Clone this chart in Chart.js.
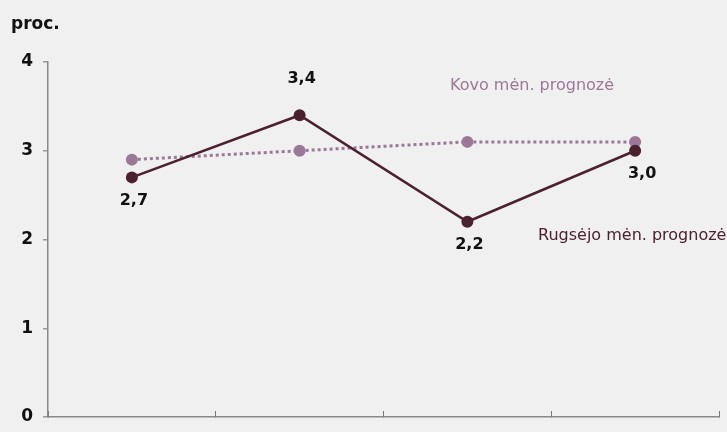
<!DOCTYPE html>
<html>
<head>
<meta charset="utf-8">
<script src="https://cdn.jsdelivr.net/npm/chart.js@4/dist/chart.umd.min.js"></script>
<style>
  html, body { margin: 0; padding: 0; background: #f0f0f0; }
  #wrap { width: 727px; height: 432px; }
</style>
</head>
<body>
<div id="wrap"><canvas id="chart"></canvas></div>
<script>
// Chart data
const categories = ['2024', '2025', '2026', '2027'];
const septForecast = [2.7, 3.4, 2.2, 3.0];   // Rugsėjo mėn. prognozė
const marchForecast = [2.9, 3.0, 3.1, 3.1];  // Kovo mėn. prognozė
const septLabelSide = ['below', 'above', 'below', 'below'];
const yTicks = [0, 1, 2, 3, 4];

const DARK = '#4b2130';
const LIGHT = '#9a7896';
const FONT = '"DejaVu Sans", sans-serif';

/**
 * Draws the value labels, series names and unit text
 */
const annotations = {
    id: 'annotations',
    beforeDraw(chart) {
        const ctx = chart.ctx;
        ctx.save();
        ctx.fillStyle = '#f0f0f0';
        ctx.fillRect(0, 0, chart.width, chart.height);
        ctx.restore();
    },
    afterDatasetsDraw(chart) {
        const ctx = chart.ctx;
        ctx.save();

        // unit
        ctx.fillStyle = '#111';
        ctx.font = 'bold 17px ' + FONT;
        ctx.textAlign = 'left';
        ctx.textBaseline = 'middle';
        ctx.fillText('proc.', 11, 25);

        // value labels on the September series
        const meta = chart.getDatasetMeta(0);
        ctx.font = 'bold 16px ' + FONT;
        ctx.textAlign = 'center';
        meta.data.forEach((pt, i) => {
            const text = septForecast[i].toFixed(1).replace('.', ',');
            const dy = septLabelSide[i] === 'above' ? -36 : 23;
            ctx.fillText(text, pt.x + (i === 3 ? 7 : 2), pt.y + dy);
        });

        // series names
        ctx.font = '16px ' + FONT;
        ctx.textAlign = 'left';
        ctx.fillStyle = LIGHT;
        ctx.fillText('Kovo mėn. prognozė', 450, 86);
        ctx.fillStyle = DARK;
        ctx.fillText('Rugsėjo mėn. prognozė', 538, 236);

        ctx.restore();
    }
};

new Chart(document.getElementById('chart'), {
    type: 'line',
    data: {
        labels: categories,
        datasets: [{
            label: 'Rugsėjo mėn. prognozė',
            data: septForecast,
            borderColor: DARK,
            backgroundColor: DARK,
            borderWidth: 2.5,
            pointRadius: 6,
            pointHoverRadius: 6,
            pointBorderWidth: 0,
            tension: 0,
            order: 1
        }, {
            label: 'Kovo mėn. prognozė',
            data: marchForecast,
            borderColor: LIGHT,
            backgroundColor: LIGHT,
            borderWidth: 3,
            borderDash: [3, 3],
            pointRadius: 6,
            pointHoverRadius: 6,
            pointBorderWidth: 0,
            tension: 0,
            order: 2
        }]
    },
    options: {
        responsive: true,
        maintainAspectRatio: false,
        animation: false,
        layout: {
            padding: { top: 62, right: 8, bottom: 0, left: 0 }
        },
        plugins: {
            legend: { display: false },
            tooltip: { enabled: false }
        },
        scales: {
            x: {
                offset: true,
                grid: {
                    offset: true,
                    drawOnChartArea: false,
                    drawTicks: true,
                    tickLength: -6,
                    color: '#777',
                    lineWidth: 1
                },
                border: { display: true, color: '#888', width: 1.5 },
                ticks: { display: false },
                afterFit(scale) { scale.height = 15; }
            },
            y: {
                min: 0,
                max: 4,
                afterBuildTicks(scale) {
                    scale.ticks = yTicks.map(v => ({ value: v }));
                },
                grid: {
                    drawOnChartArea: false,
                    drawTicks: true,
                    tickLength: 5,
                    color: '#999',
                    lineWidth: 1.5
                },
                border: { display: true, color: '#888', width: 1.5 },
                ticks: {
                    color: '#111',
                    padding: 10,
                    font: { family: FONT, size: 17, weight: 'bold' }
                },
                afterFit(scale) {
                    scale.width = 48;
                    scale.paddingTop = 0;
                    scale.paddingBottom = 0;
                }
            }
        }
    },
    plugins: [annotations]
});
</script>
</body>
</html>
